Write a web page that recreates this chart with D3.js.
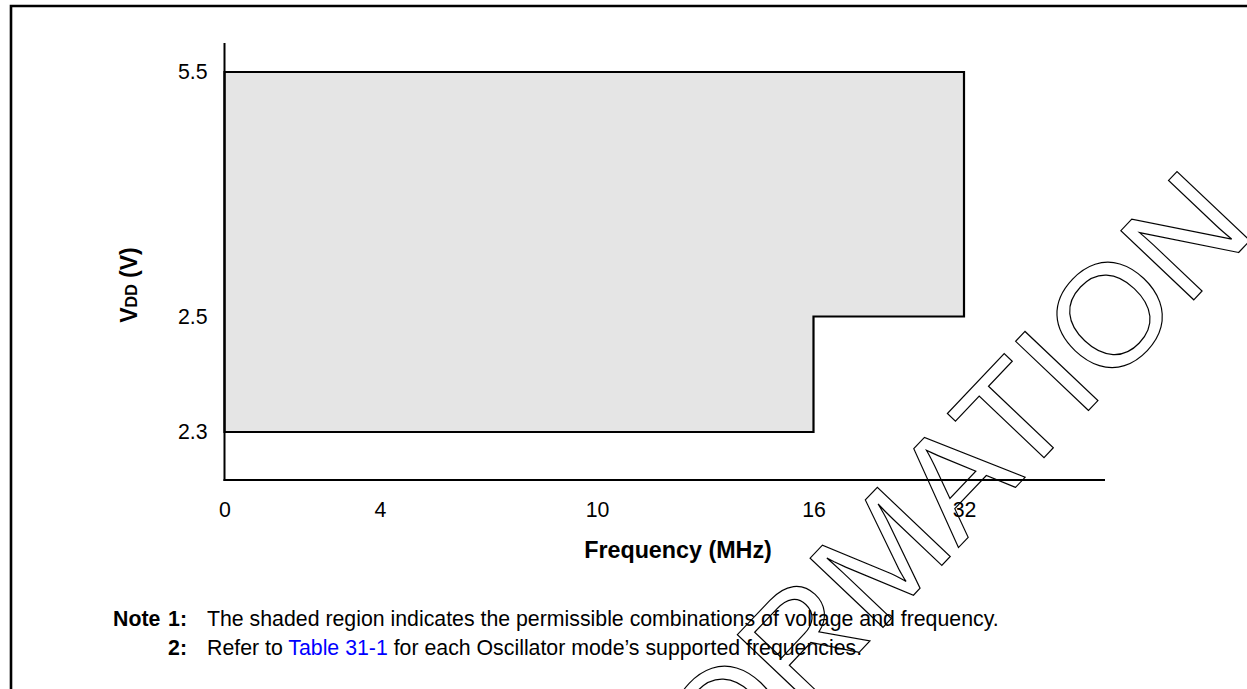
<!DOCTYPE html>
<html>
<head>
<meta charset="utf-8">
<script src="https://cdn.jsdelivr.net/npm/d3@7"></script>
<style>
  html, body { margin: 0; padding: 0; background: #fff; }
  svg { display: block; font-family: "Liberation Sans", Arial, Helvetica, sans-serif; }
</style>
</head>
<body>
<div id="chart"></div>
<script>
// ---- Data ----
const freqTicks = [0, 4, 10, 16, 32];          // MHz (non-linear axis positions)
const vddTicks  = [2.3, 2.5, 5.5];             // V
const regionFreq = [0, 32, 32, 16, 16, 0];     // operating region outline, frequency
const regionVdd  = [5.5, 5.5, 2.5, 2.5, 2.3, 2.3]; // operating region outline, voltage
const xTitle = "Frequency (MHz)";
const noteLines = [
  { num: "1:", parts: [{ t: "The shaded region indicates the permissible combinations of voltage and frequency." }] },
  { num: "2:", parts: [{ t: "Refer to " }, { t: "Table 31-1", link: true }, { t: " for each Oscillator mode\u2019s supported frequencies." }] }
];
const watermark = "INFORMATION";

// ---- Layout ----
const W = 1247, H = 689;
const svg = d3.select("#chart").append("svg").attr("width", W).attr("height", H);
svg.append("rect").attr("width", W).attr("height", H).attr("fill", "#fff");

const x = d3.scaleLinear().domain(freqTicks).range([224.5, 380, 597, 813.5, 964]);
const y = d3.scaleLinear().domain(vddTicks).range([432, 316.5, 72]);
const axisY0 = 480, axisTop = 43, axisRight = 1105;

// frame (left + top)
svg.append("path")
  .attr("d", `M11,${H} L11,6 L${W},6`)
  .attr("fill", "none").attr("stroke", "#000").attr("stroke-width", 2.6);

// shaded region
const pts = regionFreq.map((f, i) => [x(f), y(regionVdd[i])]);
svg.append("path")
  .attr("d", d3.line()(pts) + "Z")
  .attr("fill", "#e5e5e5").attr("stroke", "#000").attr("stroke-width", 2.2)
  .attr("stroke-linejoin", "miter");

// axes lines
svg.append("line").attr("x1", x(0)).attr("x2", x(0)).attr("y1", axisTop).attr("y2", axisY0 + 1)
  .attr("stroke", "#000").attr("stroke-width", 2);
svg.append("line").attr("x1", x(0) - 1).attr("x2", axisRight).attr("y1", axisY0).attr("y2", axisY0)
  .attr("stroke", "#000").attr("stroke-width", 2);

// x tick labels
const xAxis = svg.append("g").attr("transform", `translate(0,${axisY0})`)
  .call(d3.axisBottom(x).tickValues(freqTicks).tickSize(0).tickPadding(22).tickFormat(d3.format("d")));
xAxis.select(".domain").remove();
xAxis.selectAll("text").attr("font-size", 21.3).attr("fill", "#000")
  .attr("font-family", "'Liberation Sans', Arial, sans-serif");

// y tick labels
const yAxis = svg.append("g").attr("transform", `translate(${x(0)},0)`)
  .call(d3.axisLeft(y).tickValues(vddTicks).tickSize(0).tickPadding(17).tickFormat(d3.format(".1f")));
yAxis.select(".domain").remove();
yAxis.selectAll("text").attr("font-size", 21.3).attr("fill", "#000")
  .attr("font-family", "'Liberation Sans', Arial, sans-serif");

// x title
svg.append("text").attr("x", 678).attr("y", 558).attr("text-anchor", "middle")
  .attr("font-size", 23.3).attr("font-weight", "bold").text(xTitle);

// y title: V_DD (V)
const yt = svg.append("text").attr("transform", "translate(137,285) rotate(-90)")
  .attr("text-anchor", "middle").attr("font-weight", "bold").attr("font-size", 23);
yt.append("tspan").text("V");
yt.append("tspan").attr("font-size", 16).text("DD");
yt.append("tspan").text(" (V)");

// notes
svg.append("text").attr("x", 113).attr("y", 626).attr("font-size", 21.3).attr("font-weight", "bold").text("Note");
noteLines.forEach((ln, i) => {
  const yy = 626 + i * 29;
  svg.append("text").attr("x", 187).attr("y", yy).attr("text-anchor", "end")
    .attr("font-size", 21.3).attr("font-weight", "bold").text(ln.num);
  const t = svg.append("text").attr("x", 207).attr("y", yy).attr("font-size", 21.3).attr("fill", "#000");
  ln.parts.forEach(p => t.append("tspan").attr("fill", p.link ? "#0000ff" : "#000").text(p.t));
});

// watermark (outlined text)
svg.append("text")
  .attr("transform", "translate(1258,232) rotate(-46.5)")
  .attr("text-anchor", "end")
  .attr("font-size", 146)
  .attr("fill", "none").attr("stroke", "#000").attr("stroke-width", 1.2)
  .text(watermark);
</script>
</body>
</html>
